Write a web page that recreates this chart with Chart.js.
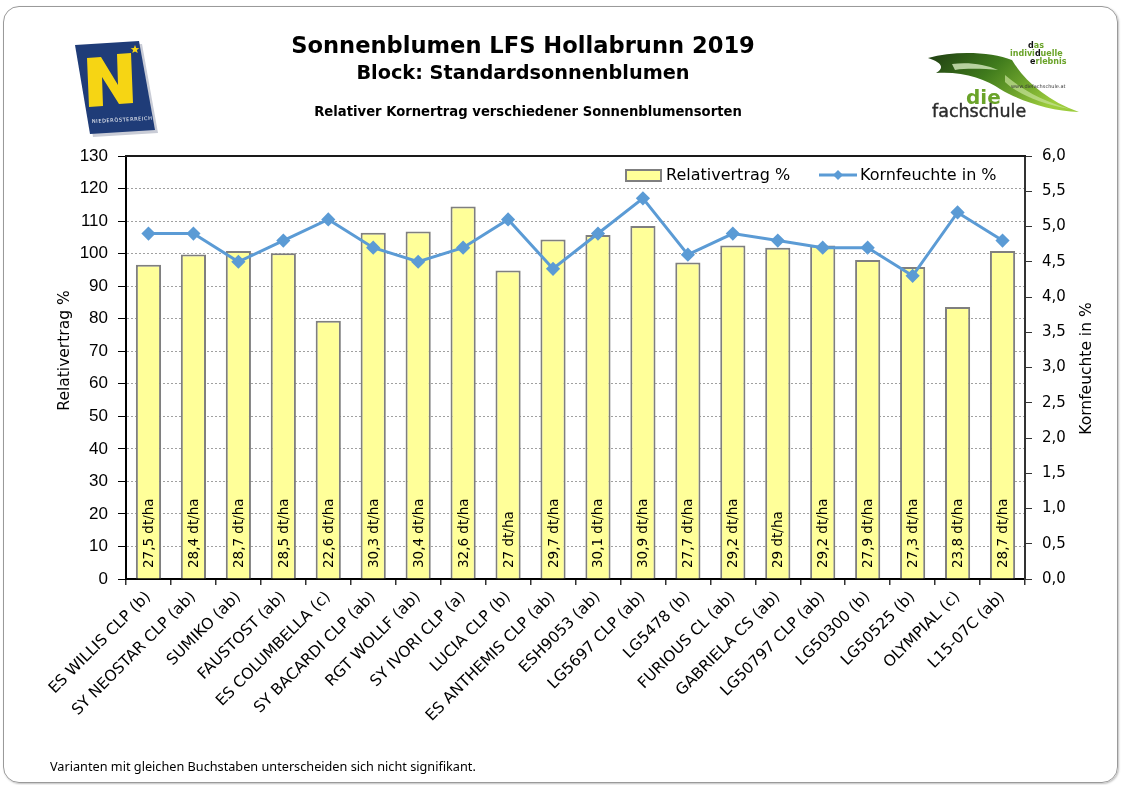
<!DOCTYPE html>
<html>
<head>
<meta charset="utf-8">
<script src="https://cdn.jsdelivr.net/npm/chart.js@4/dist/chart.umd.min.js"></script>
<style>
  html,body{margin:0;padding:0;background:#fff;}
  #wrap{position:relative;width:1122px;height:785px;overflow:hidden;background:#fff;}
  .frame{position:absolute;left:3px;top:6px;width:1113px;height:775px;border:1px solid #9a9a9a;border-radius:16px;box-shadow:1px 1px 2px rgba(0,0,0,0.25);}
  canvas{position:absolute;left:0;top:0;}
  .t{position:absolute;text-align:center;color:#000;font-family:'DejaVu Sans',sans-serif;font-weight:bold;white-space:nowrap;}
  .foot{position:absolute;left:50px;top:757px;font-family:'Noto Sans',sans-serif;font-size:12.7px;color:#000;white-space:nowrap;}
  svg{position:absolute;left:0;top:0;pointer-events:none;}
</style>
</head>
<body>
<div id="wrap">
  <div class="frame"></div>
  <canvas id="c" width="1122" height="785"></canvas>
  <div class="t" style="left:173px;width:700px;top:32px;font-size:22.6px;">Sonnenblumen LFS Hollabrunn 2019</div>
  <div class="t" style="left:173px;width:700px;top:61px;font-size:19.3px;">Block: Standardsonnenblumen</div>
  <div class="t" style="left:178px;width:700px;top:104px;font-size:13.2px;">Relativer Kornertrag verschiedener Sonnenblumensorten</div>
  <div class="foot">Varianten mit gleichen Buchstaben unterscheiden sich nicht signifikant.</div>
  <svg width="1122" height="785" viewBox="0 0 1122 785">
    <defs>
      <linearGradient id="gs" x1="0" y1="0" x2="1" y2="0.4">
        <stop offset="0" stop-color="#1f3d12"/>
        <stop offset="0.45" stop-color="#3f7a1c"/>
        <stop offset="1" stop-color="#9ccc3c"/>
      </linearGradient>
    </defs>
    <!-- Niederösterreich logo -->
    <polygon points="76,46 140,42 156,131 91,135" fill="#c9ccd6" transform="translate(2,2)"/>
    <polygon points="75,45 139,41 155,130 90,134" fill="#1f3c78"/>
    <polygon points="87,58 101,57 118,85 117,54 131,53 133,103 119,104 102,77 103,106 89,107" fill="#f6d514"/>
    <polygon points="135,45 136.2,48 139.3,48.2 136.9,50.1 137.7,53.1 135,51.4 132.3,53.1 133.1,50.1 130.7,48.2 133.8,48" fill="#f6d514"/>
    <text x="92" y="123" font-family="DejaVu Sans" font-size="5" fill="#fff" letter-spacing="0.6" transform="rotate(-3 92 123)">NIEDERÖSTERREICH</text>
    <!-- die fachschule logo -->
    <path d="M928,58 C955,50 992,52 1012,60 C1024,80 1046,100 1079,112 C1050,111 1020,101 1000,89 C986,79 962,71 936,73 C946,67 940,62 928,58 Z" fill="url(#gs)"/>
    <path d="M952,64 C968,62 985,64 998,70 C985,69 968,68 955,70 Z" fill="#d8ecc0" opacity="0.8"/>
    <path d="M1005,75 C1020,88 1040,100 1070,109 C1040,104 1018,94 1005,82 Z" fill="#c8e39a" opacity="0.7"/>
    <text x="1028" y="48" font-family="DejaVu Sans" font-size="8" font-weight="bold" fill="#6aa329"><tspan fill="#111">d</tspan>as</text>
    <text x="1010" y="56" font-family="DejaVu Sans" font-size="8" font-weight="bold" fill="#6aa329">indivi<tspan fill="#111">d</tspan>uelle</text>
    <text x="1030" y="64" font-family="DejaVu Sans" font-size="8" font-weight="bold" fill="#6aa329"><tspan fill="#111">e</tspan>rlebnis</text>
    <text x="1011" y="88" font-family="DejaVu Sans" font-size="5" fill="#333">www.diefachschule.at</text>
    <text x="966" y="104" font-family="DejaVu Sans" font-size="20" font-weight="bold" fill="#6aa329">die</text>
    <text x="932" y="117" font-family="DejaVu Sans" font-size="17.5" fill="#2b2b2b" stroke="#2b2b2b" stroke-width="0.4">fachschule</text>
  </svg>
</div>
<script>
const categories = ['ES WILLIS CLP (b)', 'SY NEOSTAR CLP (ab)', 'SUMIKO (ab)', 'FAUSTOST (ab)', 'ES COLUMBELLA (c)', 'SY BACARDI CLP (ab)', 'RGT WOLLF (ab)', 'SY IVORI CLP (a)', 'LUCIA CLP (b)', 'ES ANTHEMIS CLP (ab)', 'ESH9053 (ab)', 'LG5697 CLP (ab)', 'LG5478 (b)', 'FURIOUS CL (ab)', 'GABRIELA CS (ab)', 'LG50797 CLP (ab)', 'LG50300 (b)', 'LG50525 (b)', 'OLYMPIAL (c)', 'L15-07C (ab)'];
const relativertrag = [96.6, 99.7, 100.8, 100.1, 79.4, 106.4, 106.8, 114.5, 94.8, 104.3, 105.7, 108.5, 97.3, 102.5, 101.8, 102.5, 98.0, 95.9, 83.6, 100.8];
const kornfeuchte = [4.9, 4.9, 4.5, 4.8, 5.1, 4.7, 4.5, 4.7, 5.1, 4.4, 4.9, 5.4, 4.6, 4.9, 4.8, 4.7, 4.7, 4.3, 5.2, 4.8];
const ertragDtHa = ['27,5', '28,4', '28,7', '28,5', '22,6', '30,3', '30,4', '32,6', '27', '29,7', '30,1', '30,9', '27,7', '29,2', '29', '29,2', '27,9', '27,3', '23,8', '28,7'];
const leftTicks = {min: 0, max: 130, step: 10};
const rightTicks = {min: 0, max: 6, step: 0.5};
const seriesNames = ['Relativertrag %', 'Kornfeuchte in %'];
const axisTitles = ['Relativertrag %', 'Kornfeuchte in %'];

const BAR_FILL = '#FFFF99', BAR_BORDER = '#7f7f7f', LINE_COLOR = '#5B9BD5';

const extras = {
  id: 'extras',
  afterDatasetsDraw(chart) {
    const ctx = chart.ctx;
    const meta = chart.getDatasetMeta(1);
    const y0 = chart.scales.y.getPixelForValue(0);
    ctx.save();
    ctx.fillStyle = '#000';
    ctx.font = '13.5px "DejaVu Sans"';
    ctx.textAlign = 'left';
    ctx.textBaseline = 'middle';
    meta.data.forEach((bar, i) => {
      ctx.save();
      ctx.translate(bar.x, y0 - 11);
      ctx.rotate(-Math.PI / 2);
      ctx.fillText(ertragDtHa[i] + ' dt/ha', 0, 1);
      ctx.restore();
    });
    ctx.restore();
  },
  afterDraw(chart) {
    const ctx = chart.ctx;
    const a = chart.chartArea;
    ctx.save();
    // top border of plot area
    ctx.strokeStyle = '#1a1a1a';
    ctx.lineWidth = 2;
    ctx.beginPath();
    ctx.moveTo(a.left - 1, a.top);
    ctx.lineTo(a.right + 1, a.top);
    ctx.stroke();
    // axis titles
    ctx.fillStyle = '#000';
    ctx.font = '15.5px "DejaVu Sans"';
    ctx.textAlign = 'center';
    ctx.textBaseline = 'middle';
    ctx.save();
    ctx.translate(65, (a.top + a.bottom) / 2 - 17);
    ctx.rotate(-Math.PI / 2);
    ctx.fillText(axisTitles[0], 0, 0);
    ctx.restore();
    ctx.save();
    ctx.translate(1087, (a.top + a.bottom) / 2 + 1);
    ctx.rotate(-Math.PI / 2);
    ctx.fillText(axisTitles[1], 0, 0);
    ctx.restore();
    // legend (inside plot, top right)
    const ly = a.top + 19;
    ctx.font = '16px "DejaVu Sans"';
    ctx.textAlign = 'left';
    ctx.fillStyle = BAR_FILL;
    ctx.fillRect(a.right - 399, ly - 5, 35, 11);
    ctx.strokeStyle = BAR_BORDER;
    ctx.lineWidth = 2;
    ctx.strokeRect(a.right - 399, ly - 5, 35, 11);
    ctx.fillStyle = '#000';
    ctx.fillText(seriesNames[0], a.right - 359, ly + 1);
    ctx.strokeStyle = LINE_COLOR;
    ctx.lineWidth = 3;
    ctx.beginPath();
    ctx.moveTo(a.right - 206, ly);
    ctx.lineTo(a.right - 168, ly);
    ctx.stroke();
    ctx.fillStyle = LINE_COLOR;
    ctx.beginPath();
    const dx = a.right - 187;
    ctx.moveTo(dx, ly - 5); ctx.lineTo(dx + 5, ly); ctx.lineTo(dx, ly + 5); ctx.lineTo(dx - 5, ly); ctx.closePath();
    ctx.fill();
    ctx.fillStyle = '#000';
    ctx.fillText(seriesNames[1], a.right - 165, ly + 1);
    ctx.restore();
  }
};

new Chart(document.getElementById('c'), {
  data: {
    labels: categories,
    datasets: [
      {
        type: 'line', label: seriesNames[1], data: kornfeuchte, yAxisID: 'y1', order: 0,
        borderColor: LINE_COLOR, backgroundColor: LINE_COLOR, borderWidth: 3,
        pointStyle: 'rectRot', pointRadius: 5, pointBackgroundColor: LINE_COLOR, pointBorderColor: LINE_COLOR,
        tension: 0, fill: false
      },
      {
        type: 'bar', label: seriesNames[0], data: relativertrag, yAxisID: 'y', order: 1,
        backgroundColor: BAR_FILL, borderColor: BAR_BORDER, borderWidth: 2,
        barPercentage: 0.56, categoryPercentage: 1.0
      }
    ]
  },
  options: {
    responsive: false,
    animation: false,
    devicePixelRatio: 1,
    layout: {padding: {top: 156, left: 0, right: 0, bottom: 0}},
    plugins: {legend: {display: false}, tooltip: {enabled: false}, title: {display: false}},
    scales: {
      x: {
        offset: true,
        grid: {offset: true, drawOnChartArea: false, tickLength: 6, color: '#333', lineWidth: 1.5},
        border: {color: '#000', width: 2},
        ticks: {minRotation: 45, maxRotation: 45, autoSkip: false, color: '#000', font: {family: 'DejaVu Sans', size: 15.5}, padding: 3},
        afterFit: s => { s.height = 206; }
      },
      y: {
        position: 'left', min: leftTicks.min, max: leftTicks.max,
        ticks: {stepSize: leftTicks.step, color: '#000', font: {family: 'Liberation Sans', size: 17}, padding: 10},
        grid: {
          color: c => (c.tick && (c.tick.value === leftTicks.min || c.tick.value === leftTicks.max)) ? 'rgba(0,0,0,0)' : '#a0a0a0',
          tickColor: '#000', tickLength: 8, lineWidth: 1
        },
        border: {color: '#000', width: 2, dash: [2, 2]},
        afterFit: s => { s.width = 126; }
      },
      y1: {
        position: 'right', min: rightTicks.min, max: rightTicks.max,
        ticks: {stepSize: rightTicks.step, color: '#000', font: {family: 'DejaVu Sans', size: 15}, padding: 10,
          callback: v => Number(v).toFixed(1).replace('.', ',')},
        grid: {drawOnChartArea: false, tickLength: 7, color: '#333', tickColor: '#333', lineWidth: 1},
        border: {color: '#333', width: 2},
        afterFit: s => { s.width = 97; }
      }
    }
  },
  plugins: [extras]
});
</script>
</body>
</html>
